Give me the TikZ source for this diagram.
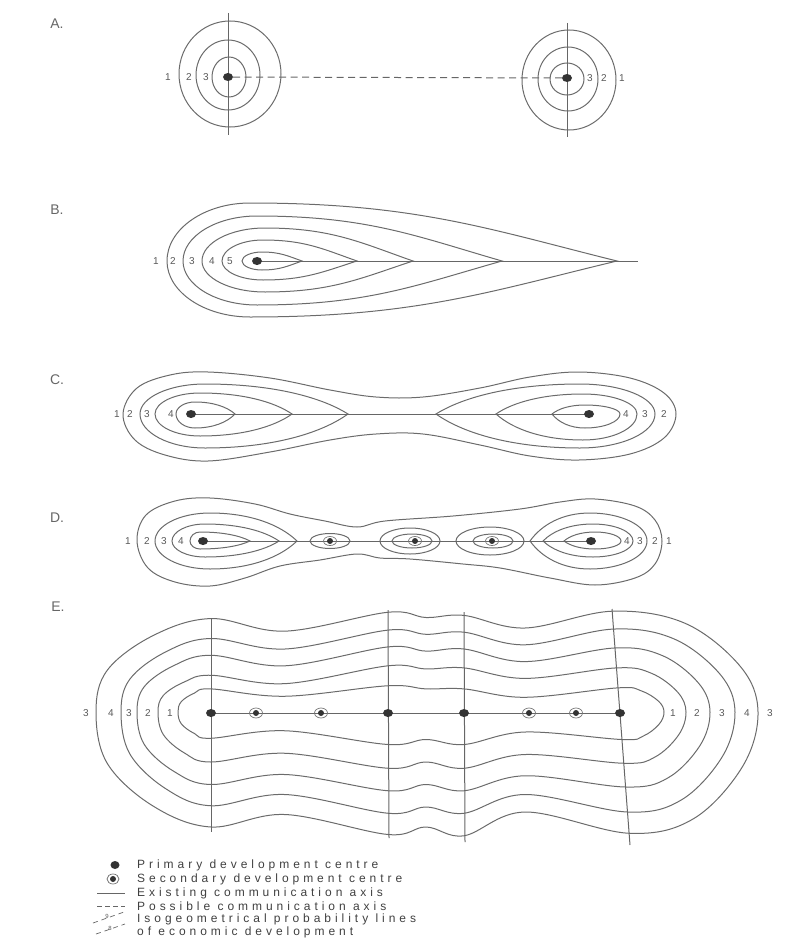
\documentclass[tikz,border=0pt]{standalone}
\usepackage{fontspec}
\setmainfont{Liberation Sans}
\newfontfamily\legfont[LetterSpace=33]{Liberation Sans}
\usetikzlibrary{shapes.geometric}
\tikzset{
 cont/.style={draw=black!58, line width=1pt},
 axisline/.style={draw=black!60, line width=1pt},
 lab/.style={font=\fontsize{10}{10}\selectfont, text=black!65, inner sep=0pt},
 plab/.style={font=\fontsize{14}{14}\selectfont, text=black!60, inner sep=0pt},
 legtext/.style={font=\legfont\fontsize{12}{12}\selectfont, text=black!75, inner sep=0pt, anchor=west},
 pdot/.style={ellipse, fill=black!80, minimum width=10pt, minimum height=8pt, inner sep=0pt},
 sdot/.style={circle, fill=black!80, minimum size=6pt, inner sep=0pt},
 ring/.style={draw=black!55, line width=0.7pt},
}
\newcommand\tdrop[6]{%
 \draw[cont] (#3,#4) .. controls ({#3-\tipa*(#3-#2)},{#4-\tipb*(#4-#5)}) and ({#2+0.45*(#3-#2)},#5) .. (#2,#5)
 .. controls ({#2-0.55*(#2-#1)},#5) and (#1,{#4-0.55*(#4-#5)}) .. (#1,#4)
 .. controls (#1,{#4+0.55*(#6-#4)}) and ({#2-0.55*(#2-#1)},#6) .. (#2,#6)
 .. controls ({#2+0.45*(#3-#2)},#6) and ({#3-\tipa*(#3-#2)},{#4+\tipb*(#6-#4)}) .. (#3,#4) -- cycle;}
\begin{document}
\begin{tikzpicture}[x=1pt,y=-1pt]
\useasboundingbox (0,0) rectangle (785,939);
% panel letters
\node[plab] (lA) at (57,24) {A.};
\node[plab] (lB) at (57,210) {B.};
\node[plab] (lC) at (57,380) {C.};
\node[plab] (lD) at (57,518) {D.};
\node[plab] (lE) at (58,607) {E.};

% ---------------- A
\draw[cont] (230,74) ellipse [x radius=51, y radius=53];
\draw[cont] (228,75) ellipse [x radius=32, y radius=35];
\draw[cont] (229,77) ellipse [x radius=17, y radius=20];
\draw[cont] (569,80) ellipse [x radius=47, y radius=50];
\draw[cont] (568,79) ellipse [x radius=30, y radius=32];
\draw[cont] (567,79) ellipse [x radius=17, y radius=16];
\coordinate (a1t) at (228,13); \coordinate (a1b) at (228,135);
\coordinate (a2t) at (567,23); \coordinate (a2b) at (567,137);
\draw[axisline] (a1t) -- (a1b);
\draw[axisline] (a2t) -- (a2b);
\node[pdot] (a1) at (228,77) {};
\node[pdot] (a2) at (567,78) {};
\draw[axisline, dash pattern=on 7pt off 4.5pt] (a1) -- (a2);
\foreach \x/\t [count=\i] in {168/1,189/2,206/3}{\node[lab] (al\i) at (\x,77) {\t};}
\foreach \x/\t [count=\i] in {590/3,604/2,622/1}{\node[lab] (ar\i) at (\x,78) {\t};}

% ---------------- B
\def\tipa{0.35}\def\tipb{0.55}
\tdrop{167}{250}{617}{261}{203}{317}
\tdrop{183}{257}{502}{261}{216}{305}
\tdrop{202}{265}{413}{261}{228}{292}
\tdrop{222}{263}{357}{261}{240}{280}
\tdrop{242}{262}{302}{261}{252}{270}
\coordinate (b0) at (257,261); \coordinate (bend) at (638,261);
\draw[axisline] (b0) -- (bend);
\node[pdot] (b1) at (b0) {};
\foreach \x/\t [count=\i] in {156/1,173/2,192/3,212/4,230/5}{\node[lab] (bl\i) at (\x,261) {\t};}

% ---------------- C
\def\tipa{0.2}\def\tipb{0.6}
\tdrop{176}{195}{235}{414}{402}{428}
\tdrop{155}{200}{292}{414}{393}{436}
\tdrop{140}{205}{348}{414}{384}{448}
\tdrop{620}{585}{552}{414}{405}{428}
\tdrop{637}{583}{496}{414}{394}{440}
\tdrop{655}{580}{436}{414}{384}{448}
\draw[cont] plot[smooth cycle, tension=0.6] coordinates {
 (123,414) (137,388) (170,375) (208,372) (270,378) (330,390) (376,397) (423,397)
 (480,388) (530,377) (579,372) (630,378) (664,393) (676,414) (664,438) (630,454)
 (579,460) (530,456) (480,445) (423,434) (376,434) (330,440) (270,452) (208,461)
 (165,455) (135,440)};
\coordinate (c0) at (191,414); \coordinate (c9) at (589,414);
\draw[axisline] (c0) -- (c9);
\node[pdot] (c1) at (c0) {};
\node[pdot] (c2) at (c9) {};
\foreach \x/\t [count=\i] in {117/1,130/2,147/3,171/4}{\node[lab] (cl\i) at (\x,414) {\t};}
\foreach \x/\t [count=\i] in {626/4,645/3,664/2}{\node[lab] (cr\i) at (\x,414) {\t};}

% ---------------- D
\tdrop{190}{200}{250}{541}{532}{549}
\tdrop{172}{205}{279}{541}{524}{557}
\tdrop{155}{210}{297}{541}{513}{569}
\tdrop{621}{595}{564}{541}{532}{549}
\tdrop{633}{593}{543}{541}{524}{557}
\tdrop{647}{590}{530}{541}{513}{569}
\draw[cont] (330,541) ellipse [x radius=20, y radius=7.5];
\draw[cont] (412,541) ellipse [x radius=20, y radius=7];
\draw[cont] (410,541) ellipse [x radius=30, y radius=13];
\draw[cont] (493,541) ellipse [x radius=20, y radius=7];
\draw[cont] (490,541) ellipse [x radius=34, y radius=14];
\draw[cont] plot[smooth cycle, tension=0.6] coordinates {
 (137,541) (146,515) (175,501) (210,498) (255,504) (290,514) (325,521) (357,527)
 (385,521) (453,516) (520,509) (560,502) (595,499) (635,506) (655,520) (662,541)
 (655,564) (635,578) (595,585) (550,578) (500,568) (463,564) (410,559) (380,558)
 (357,554) (320,560) (280,566) (245,578) (210,586) (175,582) (148,568)};
\coordinate (d0) at (203,541); \coordinate (d9) at (591,541);
\draw[axisline] (d0) -- (d9);
\node[pdot] (d1) at (d0) {};
\node[sdot] (d2) at (330,541) {};
\node[sdot] (d3) at (415,541) {};
\node[sdot] (d4) at (492,541) {};
\node[pdot] (d5) at (d9) {};
\foreach \n in {d2,d3,d4}{\draw[ring] (\n) ellipse [x radius=6.5, y radius=4.5];}
\foreach \x/\t [count=\i] in {128/1,147/2,164/3,181/4}{\node[lab] (dl\i) at (\x,541) {\t};}
\foreach \x/\t [count=\i] in {627/4,640/3,655/2,669/1}{\node[lab] (dr\i) at (\x,541) {\t};}

% ---------------- E
\def\ts{1.05}\def\bs{1.25}
\foreach \xl/\xr/\tA/\tB/\tC/\tD/\tE/\tF/\tG/\bA/\bB/\bC/\bD/\bE/\bF/\bG in {
178/664/690/697/687/690/690/698/689/733/727/738/734/738/728/734,
158/686/677/685/668/671/670/680/670/752/745/757/752/757/746/753,
137/710/658/668/650/654/652/664/651/770/762/775/770/775/763/772,
121/735/642/652/634/638/636/648/633/787/778/793/788/793/778/792,
96/758/623/635/617/622/620/632/616/804/794/810/804/811/792/809}{
 \pgfmathsetmacro\TA{712-\ts*(712-\tA)}
 \pgfmathsetmacro\TB{712-\ts*(712-\tB)}
 \pgfmathsetmacro\TC{712-\ts*(712-\tC)}
 \pgfmathsetmacro\TD{712-\ts*(712-\tD)}
 \pgfmathsetmacro\TE{712-\ts*(712-\tE)}
 \pgfmathsetmacro\TF{712-\ts*(712-\tF)}
 \pgfmathsetmacro\TG{712-\ts*(712-\tG)}
 \pgfmathsetmacro\BA{712+\bs*(\bA-712)}
 \pgfmathsetmacro\BB{712+\bs*(\bB-712)}
 \pgfmathsetmacro\BC{712+\bs*(\bC-712)}
 \pgfmathsetmacro\BD{712+\bs*(\bD-712)}
 \pgfmathsetmacro\BE{712+\bs*(\bE-712)}
 \pgfmathsetmacro\BF{712+\bs*(\bF-712)}
 \pgfmathsetmacro\BG{712+\bs*(\bG-712)}
 \pgfmathsetmacro\xt{612+0.076*(\TG-609)}
 \pgfmathsetmacro\xb{612+0.076*(\BG-609)}
 \draw[cont] plot[smooth cycle, tension=0.6] coordinates {
  (\xl,712)
  ({\xl+0.1*(211-\xl)},{712-0.45*(712-\TA)})
  ({211-0.5*(211-\xl)},{\TA+0.18*(712-\TA)})
  (211,\TA) (285,\TB) (388,\TC) (426,\TD) (464,\TE) (525,\TF) (\xt,\TG)
  ({\xt+0.5*(\xr-\xt)},{\TG+0.12*(712-\TG)})
  ({\xr-0.12*(\xr-\xt)},{712-0.45*(712-\TG)})
  (\xr,712)
  ({\xr-0.12*(\xr-\xb)},{712+0.45*(\BG-712)})
  ({\xb+0.5*(\xr-\xb)},{\BG-0.12*(\BG-712)})
  (\xb,\BG) (525,\BF) (464,\BE) (426,\BD) (388,\BC) (285,\BB) (211,\BA)
  ({211-0.5*(211-\xl)},{\BA-0.18*(\BA-712)})
  ({\xl+0.1*(211-\xl)},{712+0.45*(\BA-712)})
 };
}
\coordinate (v1t) at (211,618); \coordinate (v1b) at (211,832);
\coordinate (v2t) at (388,610); \coordinate (v2b) at (389,838);
\coordinate (v3t) at (464,612); \coordinate (v3b) at (465,842);
\coordinate (v4t) at (612,609); \coordinate (v4b) at (630,845);
\foreach \n in {1,2,3,4}{\draw[axisline] (v\n t) -- (v\n b);}
\coordinate (e0) at (211,713); \coordinate (e9) at (620,713);
\draw[axisline] (e0) -- (e9);
\node[pdot] (e1) at (e0) {};
\node[sdot] (e2) at (256,713) {};
\node[sdot] (e3) at (321,713) {};
\node[pdot] (e4) at (388,713) {};
\node[pdot] (e5) at (464,713) {};
\node[sdot] (e6) at (529,713) {};
\node[sdot] (e7) at (576,713) {};
\node[pdot] (e8) at (e9) {};
\foreach \n in {e2,e3,e6,e7}{\draw[ring] (\n) ellipse [x radius=6.5, y radius=5];}
\foreach \x/\t [count=\i] in {86/3,111/4,129/3,148/2,170/1}{\node[lab] (el\i) at (\x,713) {\t};}
\foreach \x/\t [count=\i] in {673/1,697/2,722/3,747/4,770/3}{\node[lab] (er\i) at (\x,713) {\t};}

% ---------------- legend
\node[pdot, minimum width=9pt, minimum height=8pt] (k1) at (115,865) {};
\node[sdot] (k2) at (113,879) {};
\draw[ring] (k2) ellipse [x radius=6, y radius=5];
\coordinate (k3a) at (97,893); \coordinate (k3b) at (125,893);
\draw[axisline] (k3a) -- (k3b);
\coordinate (k4a) at (97,906); \coordinate (k4b) at (125,906);
\draw[axisline, dash pattern=on 5pt off 3pt] (k4a) -- (k4b);
\coordinate (k5a) at (93,923); \coordinate (k5b) at (124,912);
\coordinate (k6a) at (96,934); \coordinate (k6b) at (125,924);
\draw[axisline, line width=0.7pt, dash pattern=on 5pt off 4pt] (k5a) -- (k5b);
\draw[axisline, line width=0.7pt, dash pattern=on 5pt off 4pt] (k6a) -- (k6b);
\node[lab, font=\fontsize{6}{6}\selectfont] (k5n) at (107,916) {9};
\node[lab, font=\fontsize{6}{6}\selectfont] (k6n) at (110,928) {8};
\node[legtext] (t1) at (137,865) {Primary development centre};
\node[legtext] (t2) at (137,879) {Secondary development centre};
\node[legtext] (t3) at (137,893) {Existing communication axis};
\node[legtext] (t4) at (137,906) {Possible communication axis};
\node[legtext] (t5) at (137,919) {Isogeometrical probability lines};
\node[legtext] (t6) at (137,932) {of economic development};
\end{tikzpicture}
\end{document}
